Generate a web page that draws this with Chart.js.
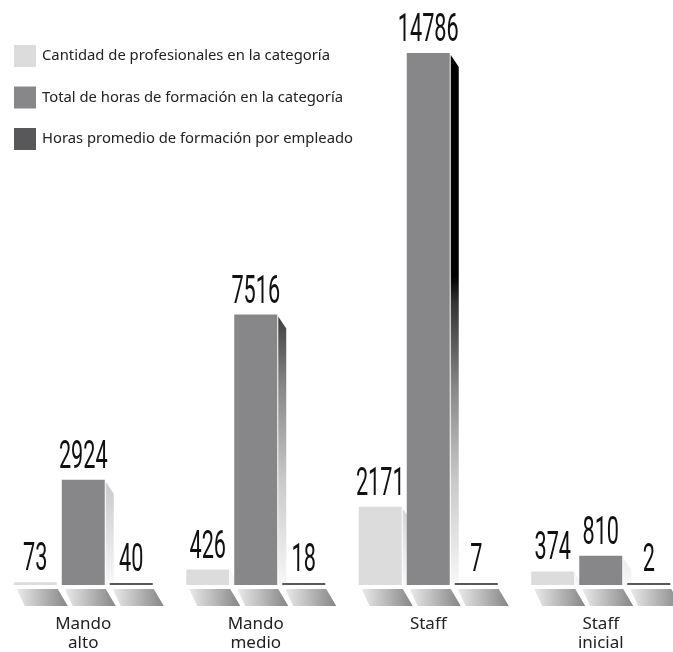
<!DOCTYPE html>
<html>
<head>
<meta charset="utf-8">
<script src="https://cdn.jsdelivr.net/npm/chart.js@4"></script>
<style>
  body { margin: 0; background: #fff; overflow: hidden; }
  #wrap { position: relative; width: 673px; height: 652px; overflow: hidden; }
  #grafico { position: absolute; left: -3px; top: 0; }
</style>
</head>
<body>
<div id="wrap">
  <canvas id="grafico" width="690" height="652"></canvas>
</div>
<script>
// datos
const categorias = [["Mando", "alto"], ["Mando", "medio"], ["Staff"], ["Staff", "inicial"]];
const nombresSeries = [
  "Cantidad de profesionales en la categoría",
  "Total de horas de formación en la categoría",
  "Horas promedio de formación por empleado"
];
const profesionales = [73, 426, 2171, 374];
const horasTotales = [2924, 7516, 14786, 810];
const horasPromedio = [40, 18, 7, 2];
const coloresSeries = ["#dcdcdd", "#87878a", "#58585a"];

const OFF = 3; // el canvas esta corrido 3px a la izquierda

// sombra lateral de cada barra (gradiente fijo en vertical)
function gradienteLado(ctx, area) {
  const g = ctx.createLinearGradient(0, area.top, 0, area.bottom);
  g.addColorStop(0, "#000");
  g.addColorStop(0.42, "#000");
  g.addColorStop(0.47, "#333");
  g.addColorStop(0.63, "#888");
  g.addColorStop(0.8, "#c8c8c8");
  g.addColorStop(1, "#f8f8f8");
  return g;
}

const decoracion = {
  id: "decoracion",
  beforeDatasetsDraw(chart) {
    const ctx = chart.ctx;
    const area = chart.chartArea;
    const lado = gradienteLado(ctx, area);
    chart.data.datasets.forEach((ds, i) => {
      chart.getDatasetMeta(i).data.forEach((bar) => {
        const w = bar.width;
        const izq = bar.x - w / 2;
        const der = bar.x + w / 2;
        const base = bar.base;
        // baldosa del piso
        const g = ctx.createLinearGradient(izq, 0, der + 11, 0);
        g.addColorStop(0, "#f0f0f0");
        g.addColorStop(1, "#858585");
        ctx.fillStyle = g;
        ctx.beginPath();
        ctx.moveTo(izq + 3, base + 4);
        ctx.lineTo(der + 1, base + 4);
        ctx.lineTo(der + 11, base + 21);
        ctx.lineTo(izq + 11, base + 21);
        ctx.closePath();
        ctx.fill();
        // lado 3d
        const alto = base - bar.y;
        if (alto > 5) {
          ctx.fillStyle = lado;
          ctx.beginPath();
          ctx.moveTo(der + 1, bar.y + 2);
          ctx.lineTo(der + 9, Math.min(bar.y + 14, base));
          ctx.lineTo(der + 9, base);
          ctx.lineTo(der + 1, base);
          ctx.closePath();
          ctx.fill();
        }
      });
    });
  },
  afterDatasetsDraw(chart) {
    const ctx = chart.ctx;
    // valores arriba de las barras
    chart.data.datasets.forEach((ds, i) => {
      chart.getDatasetMeta(i).data.forEach((bar, j) => {
        ctx.save();
        ctx.translate(bar.x, bar.y - 12);
        ctx.scale(0.57, 1);
        ctx.font = "38px Roboto";
        ctx.fillStyle = "#111";
        ctx.textAlign = "center";
        ctx.textBaseline = "alphabetic";
        ctx.fillText(String(ds.data[j]), 0, 0);
        ctx.restore();
      });
    });
    // leyenda
    const filas = [56, 97.5, 139];
    chart.data.datasets.forEach((ds, i) => {
      ctx.fillStyle = ds.backgroundColor;
      ctx.fillRect(14 + OFF, filas[i] - 11, 22, 22);
      ctx.fillStyle = "#222";
      ctx.font = "14.8px 'Noto Sans'";
      ctx.textAlign = "left";
      ctx.textBaseline = "middle";
      ctx.fillText(ds.label, 42 + OFF, filas[i]);
    });
  }
};

const ctx = document.getElementById("grafico").getContext("2d");
const chart = new Chart(ctx, {
  type: "bar",
  data: {
    labels: categorias,
    datasets: [
      { label: nombresSeries[0], data: profesionales, backgroundColor: coloresSeries[0] },
      { label: nombresSeries[1], data: horasTotales, backgroundColor: coloresSeries[1] },
      { label: nombresSeries[2], data: horasPromedio, backgroundColor: coloresSeries[2] }
    ]
  },
  options: {
    responsive: false,
    animation: false,
    layout: { padding: { top: 53, left: 0, right: 0, bottom: -31 } },
    datasets: {
      bar: {
        categoryPercentage: 0.8348,
        barPercentage: 0.8958,
        minBarLength: 2,
        borderWidth: 0
      }
    },
    plugins: {
      legend: { display: false },
      tooltip: { enabled: false }
    },
    scales: {
      x: {
        grid: { display: false, drawTicks: false },
        border: { display: false },
        ticks: {
          padding: 30,
          color: "#222",
          font: { family: "'Noto Sans'", size: 17, lineHeight: 1.12 }
        }
      },
      y: {
        display: false,
        min: 0,
        max: 14786
      }
    }
  },
  plugins: [decoracion]
});
</script>
</body>
</html>
